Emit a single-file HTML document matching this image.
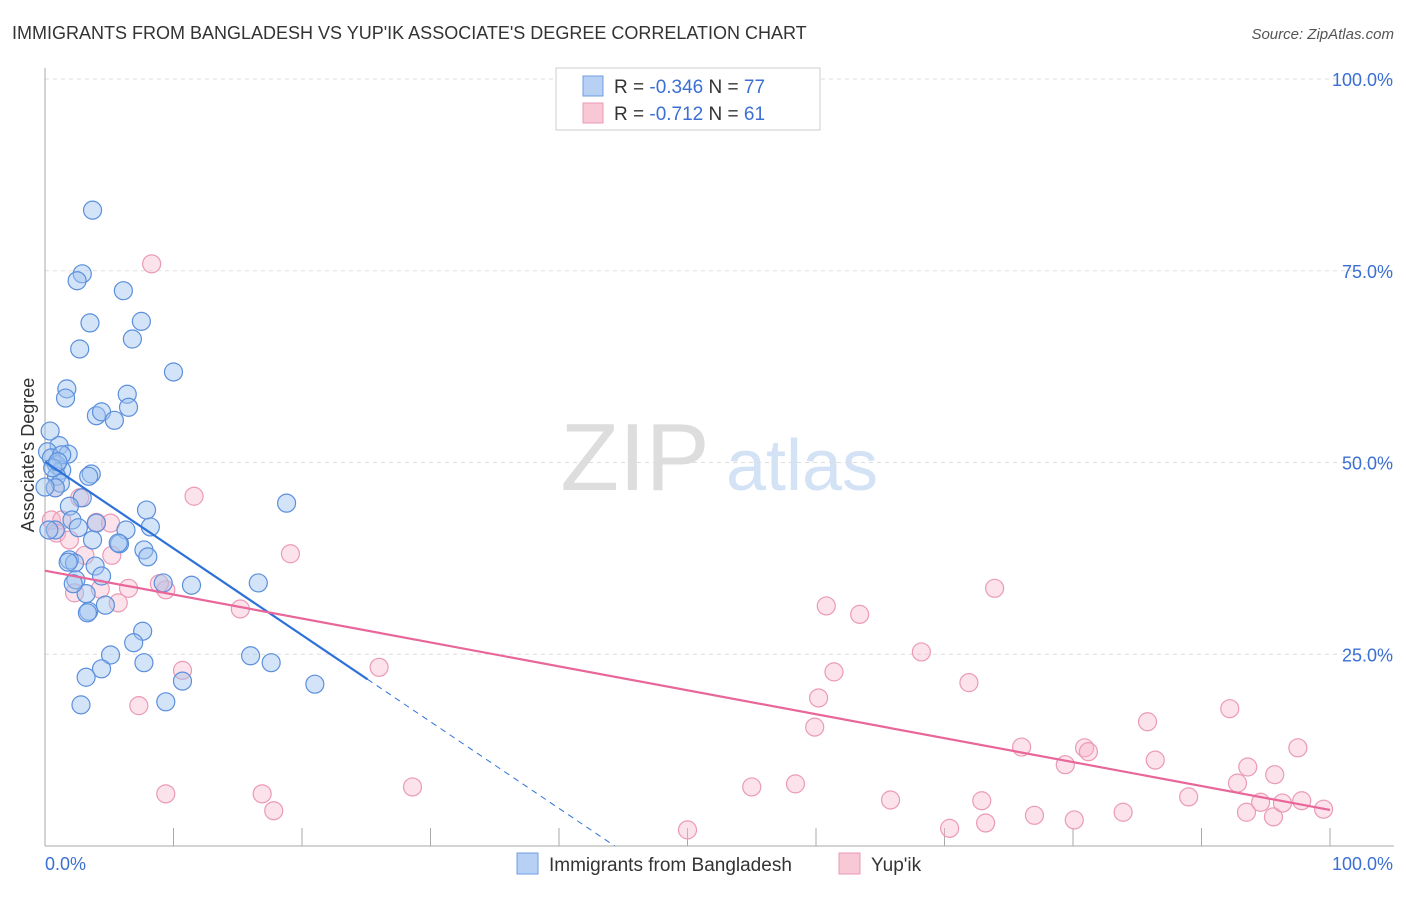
<!DOCTYPE html>
<html><head><meta charset="utf-8"><style>
body{margin:0;background:#fff;font-family:"Liberation Sans",sans-serif;}
svg text{font-family:"Liberation Sans",sans-serif;}
</style></head><body>
<svg id="c" width="1406" height="892">
<text x="12" y="39" font-size="18" fill="#333">IMMIGRANTS FROM BANGLADESH VS YUP'IK ASSOCIATE'S DEGREE CORRELATION CHART</text>
<text x="1394" y="39" font-size="15" fill="#555" font-style="italic" text-anchor="end">Source: ZipAtlas.com</text>
<g>
<text x="635" y="490" font-size="96" fill="#ddd" font-family="Liberation Serif" text-anchor="middle">ZIP</text>
<text x="802" y="490" font-size="72" fill="#d3e2f5" text-anchor="middle">atlas</text>
</g>
<g id="grid"></g>
<g id="axes"></g>
<g id="marks"></g>
<text transform="translate(34,455) rotate(-90)" font-size="18" fill="#333" text-anchor="middle">Associate's Degree</text>
<g>
<rect x="556" y="68" width="264" height="62" fill="#fff" stroke="#ccc"/>
<rect x="583" y="76" width="20" height="20" fill="#b7d0f3" stroke="#6f9ee0"/>
<rect x="583" y="103" width="20" height="20" fill="#f8c8d6" stroke="#e99ab4"/>
<text x="614" y="93" font-size="19" fill="#333">R = <tspan fill="#3b6fd4">-0.346</tspan>   N = <tspan fill="#3b6fd4">77</tspan></text>
<text x="614" y="120" font-size="19" fill="#333">R =  <tspan fill="#3b6fd4">-0.712</tspan>   N =  <tspan fill="#3b6fd4">61</tspan></text>
</g>
<g>
<rect x="517" y="853" width="21" height="21" fill="#b7d0f3" stroke="#6f9ee0"/>
<text x="549" y="871" font-size="19" fill="#333">Immigrants from Bangladesh</text>
<rect x="839" y="853" width="21" height="21" fill="#f8c8d6" stroke="#e99ab4"/>
<text x="871" y="871" font-size="19" fill="#333">Yup'ik</text>
</g>
</svg>
<script>
const yTicks=[25,50,75,100];
const yTickLabels=["25.0%","50.0%","75.0%","100.0%"];
const blueX=[3.7,2.9,2.5,6.1,3.5,7.5,6.8,2.7,1.7,10.0,1.6,6.4,4.0,4.4,6.5,5.4,0.4,1.1,0.2,1.8,0.5,0.9,1.3,3.6,3.4,0.9,1.2,0.8,2.9,7.9,18.8,1.9,0.0,2.1,0.8,4.0,6.3,8.2,5.8,3.7,2.6,5.7,7.7,8.0,1.9,2.3,3.9,1.8,4.4,2.4,9.2,11.4,16.6,3.2,2.2,4.7,3.4,3.3,7.6,6.9,5.1,7.7,16.0,17.6,4.4,3.2,10.7,21.0,2.8,9.4,0.3,1.3,0.6,1.0];
const blueY=[82.9,74.6,73.7,72.4,68.2,68.4,66.1,64.8,59.6,61.8,58.4,58.9,56.1,56.6,57.2,55.5,54.1,52.2,51.4,51.1,50.6,49.7,49.0,48.5,48.2,48.2,47.3,46.7,45.4,43.8,44.7,44.3,46.8,42.5,41.2,42.1,41.2,41.6,39.4,39.9,41.5,39.5,38.6,37.7,37.3,36.9,36.5,37.0,35.2,34.7,34.3,34.0,34.3,32.9,34.2,31.4,30.6,30.4,28.0,26.5,24.9,23.9,24.8,23.9,23.1,22.0,21.5,21.1,18.4,18.8,41.2,51.0,49.3,50.1];
const pinkX=[8.3,11.6,19.1,0.8,2.7,0.5,1.3,0.9,4.0,5.1,1.9,3.1,5.2,9.4,8.9,2.3,4.3,6.5,5.7,15.2,7.3,10.7,26.0,9.4,16.9,17.8,28.6,50.0,55.0,58.4,60.8,63.4,61.4,60.2,59.9,68.2,71.9,73.9,65.8,70.4,72.9,73.2,76.0,77.0,79.4,80.9,81.2,80.1,83.9,85.8,86.4,89.0,92.2,92.8,93.6,93.5,94.6,95.7,95.6,96.3,97.5,97.8,99.5];
const pinkY=[75.9,45.6,38.1,46.7,45.4,42.5,42.5,40.8,42.2,42.1,39.9,37.9,37.9,33.4,34.2,33.0,33.5,33.6,31.7,30.9,18.3,22.9,23.3,6.8,6.8,4.6,7.7,2.1,7.7,8.1,31.3,30.2,22.7,19.3,15.5,25.3,21.3,33.6,6.0,2.3,5.9,3.0,12.9,4.0,10.6,12.8,12.3,3.4,4.4,16.2,11.2,6.4,17.9,8.2,10.3,4.4,5.7,9.3,3.8,5.6,12.8,5.9,4.8];
const blueTrend=[50.1,-1.13]; // intercept, slope
const blueSolidEnd=25.1;
const pinkTrend=[35.9,-0.312];
const NS="http://www.w3.org/2000/svg";
const X0=45,X1=1330,Y0=846,Y100=79;
const sx=v=>X0+(X1-X0)*v/100, sy=v=>Y0-(Y0-Y100)*v/100;
function mk(tag,attrs,parent){const e=document.createElementNS(NS,tag);for(const k in attrs)e.setAttribute(k,attrs[k]);parent.appendChild(e);return e;}
const grid=document.getElementById('grid'),axes=document.getElementById('axes'),marks=document.getElementById('marks');
yTicks.forEach((t,i)=>{
 const l=mk('line',{x1:X0,x2:1394,y1:sy(t),y2:sy(t),stroke:'#ddd','stroke-dasharray':'4,4'},grid);
 
 
 const tx=mk('text',{x:1393,y:sy(t)+7,'font-size':18,fill:'#3b6fd4','text-anchor':'end'},axes);
 tx.textContent=yTickLabels[i];
 
 
});
const ya=mk('line',{x1:X0,x2:X0,y1:68,y2:Y0,stroke:'#aaa'},axes);


const xa=mk('line',{x1:X0,x2:1394,y1:Y0,y2:Y0,stroke:'#aaa'},axes);


for(let i=0;i<=10;i++){const t=mk('line',{x1:sx(i*10),x2:sx(i*10),y1:Y0,y2:Y0-18,stroke:'#aaa'},axes);
 
 }
const xl0=mk('text',{x:45,y:870,'font-size':18,fill:'#3b6fd4'},axes);xl0.textContent='0.0%';


const xl1=mk('text',{x:1393,y:870,'font-size':18,fill:'#3b6fd4','text-anchor':'end'},axes);xl1.textContent='100.0%';


pinkX.forEach((x,i)=>{const c=mk('circle',{cx:sx(x),cy:sy(pinkY[i]),r:9,fill:'rgba(248,182,202,0.4)',stroke:'#eb9ab5','stroke-width':1.2},marks);
 
 });
blueX.forEach((x,i)=>{const c=mk('circle',{cx:sx(x),cy:sy(blueY[i]),r:9,fill:'rgba(160,196,240,0.45)',stroke:'#5b8fdc','stroke-width':1.2},marks);
 
 });
const bz=-blueTrend[0]/blueTrend[1];
const bl=mk('line',{x1:sx(0),y1:sy(blueTrend[0]),x2:sx(blueSolidEnd),y2:sy(blueTrend[0]+blueTrend[1]*blueSolidEnd),stroke:'#2e72d8','stroke-width':2.2},marks);


const bd=mk('line',{x1:sx(blueSolidEnd),y1:sy(blueTrend[0]+blueTrend[1]*blueSolidEnd),x2:sx(bz),y2:sy(0),stroke:'#2e72d8','stroke-width':1,'stroke-dasharray':'6,5'},marks);


const pl=mk('line',{x1:sx(0),y1:sy(pinkTrend[0]),x2:sx(100),y2:sy(pinkTrend[0]+pinkTrend[1]*100),stroke:'#e8669a','stroke-width':2.2},marks);


</script>
</body></html>
